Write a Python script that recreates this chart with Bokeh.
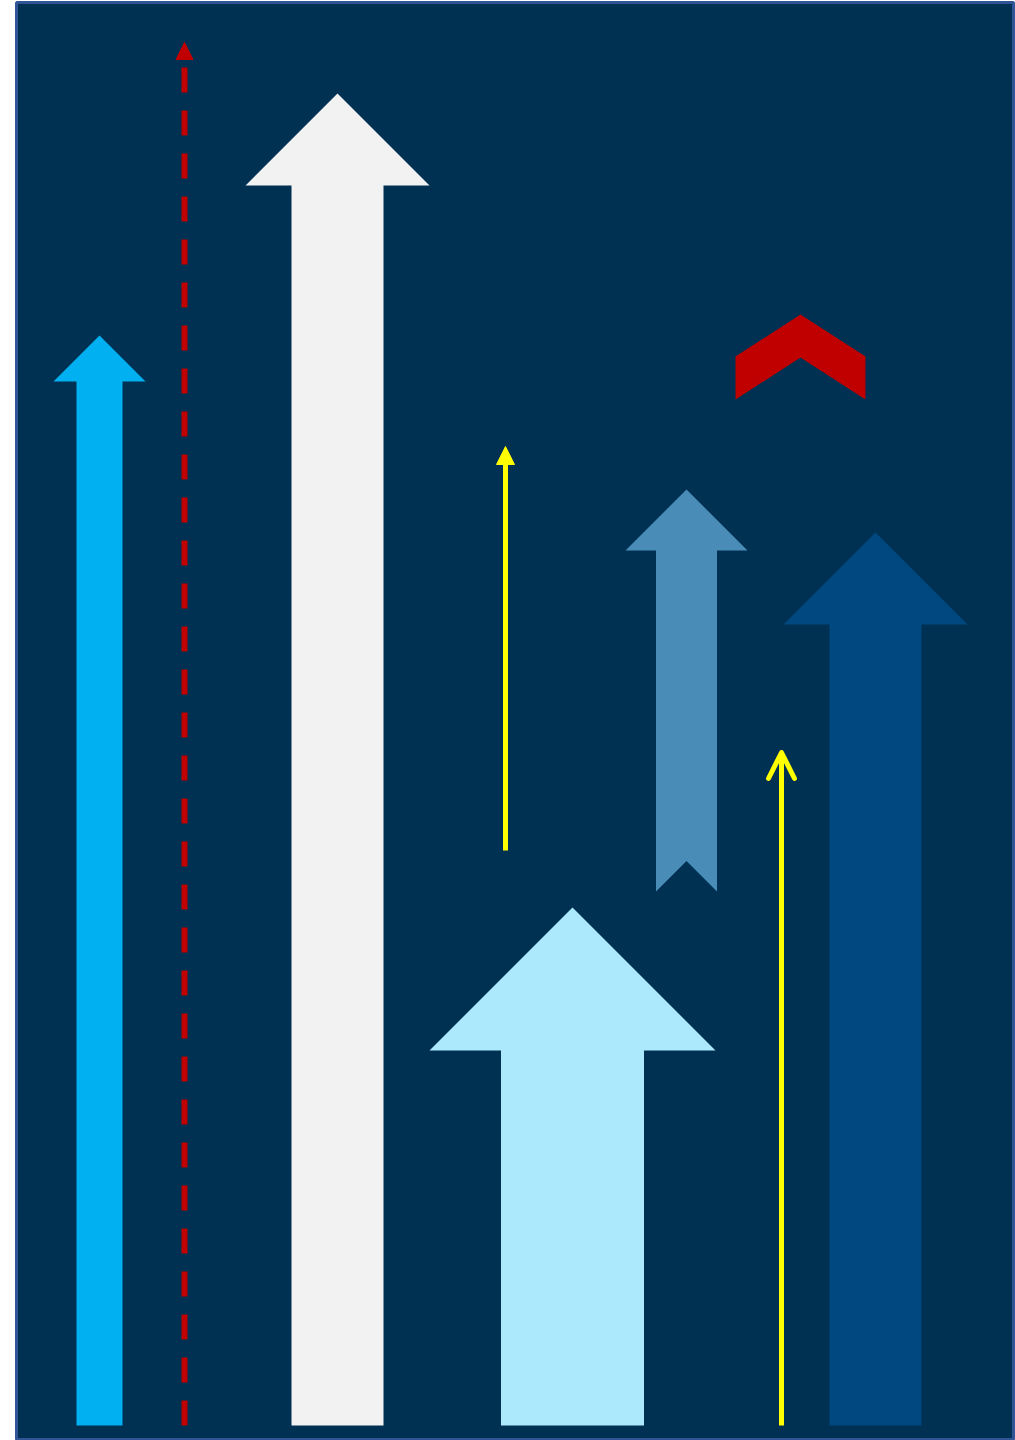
from bokeh.plotting import figure
from bokeh.models import Range1d, Arrow, NormalHead, OpenHead
from bokeh.embed import file_html
from bokeh.resources import INLINE

# ---- data (value units: 1 unit = one tenth of the chart scale) ----
block_x = [9.9, 33.7, 57.2, 87.5]
block_base = [0.0, 0.0, 0.0, 0.0]
block_tip = [109.0, 133.2, 51.8, 89.3]
block_width = [4.6, 9.2, 14.3, 9.2]
block_colors = ["#00B0F0", "#F2F2F2", "#ADE9FC", "#00487F"]

ribbon_x = [68.6]
ribbon_base = [53.4]
ribbon_tip = [93.6]
ribbon_width = [6.1]
ribbon_colors = ["#4A8CB8"]

chevron_x = [80.0]
chevron_top = [111.1]
chevron_width = [13.0]
chevron_colors = ["#C00000"]

line_x = [18.4, 50.5, 78.1]
line_start = [0.0, 57.5, 0.0]
line_end = [138.3, 97.9, 67.3]
line_colors = ["#C00000", "#FFFF00", "#FFFF00"]

BG = "#003052"

p = figure(width=1015, height=1440, output_backend="svg", toolbar_location=None,
           x_range=Range1d(1.6, 101.3), y_range=Range1d(-1.5, 142.3),
           x_axis_type=None, y_axis_type=None,
           min_border_left=16, min_border_right=2, min_border_top=2, min_border_bottom=0,
           background_fill_color=BG, border_fill_color="white",
           outline_line_color="#2F5597", outline_line_width=3)
p.grid.visible = False

# block arrows (45-degree heads, head twice as wide as shaft)
xs, ys = [], []
for cx, b, t, w in zip(block_x, block_base, block_tip, block_width):
    xs.append([cx - w / 2, cx - w / 2, cx - w, cx, cx + w, cx + w / 2, cx + w / 2])
    ys.append([b, t - w, t - w, t, t - w, t - w, b])
p.patches(xs, ys, fill_color=block_colors, line_color=None)

# ribbon arrow with notched tail
xs, ys = [], []
for cx, b, t, w in zip(ribbon_x, ribbon_base, ribbon_tip, ribbon_width):
    xs.append([cx - w / 2, cx - w / 2, cx - w, cx, cx + w, cx + w / 2, cx + w / 2, cx])
    ys.append([b, t - w, t - w, t, t - w, t - w, b, b + w / 2])
p.patches(xs, ys, fill_color=ribbon_colors, line_color=None)

# chevron
xs, ys = [], []
for cx, t, w in zip(chevron_x, chevron_top, chevron_width):
    drop = 4.2
    thick = 4.3
    xs.append([cx - w / 2, cx, cx + w / 2, cx + w / 2, cx, cx - w / 2])
    ys.append([t - drop, t, t - drop, t - drop - thick, t - thick, t - drop - thick])
p.patches(xs, ys, fill_color=chevron_colors, line_color=None)

# line arrows
# dashed red
p.add_layout(Arrow(end=NormalHead(size=17, fill_color=line_colors[0], line_color=line_colors[0]),
                   x_start=line_x[0], y_start=line_start[0], x_end=line_x[0], y_end=line_end[0],
                   line_color=line_colors[0], line_width=6, line_dash="25 18"))
# thin yellow
p.add_layout(Arrow(end=NormalHead(size=18, fill_color=line_colors[1], line_color=line_colors[1]),
                   x_start=line_x[1], y_start=line_start[1], x_end=line_x[1], y_end=line_end[1],
                   line_color=line_colors[1], line_width=5))
# open-head yellow
p.add_layout(Arrow(end=OpenHead(size=26, line_color=line_colors[2], line_width=5,
                                line_cap="round", line_join="round"),
                   x_start=line_x[2], y_start=line_start[2], x_end=line_x[2], y_end=line_end[2],
                   line_color=line_colors[2], line_width=5))

open("out.html", "w").write(file_html(p, INLINE))
